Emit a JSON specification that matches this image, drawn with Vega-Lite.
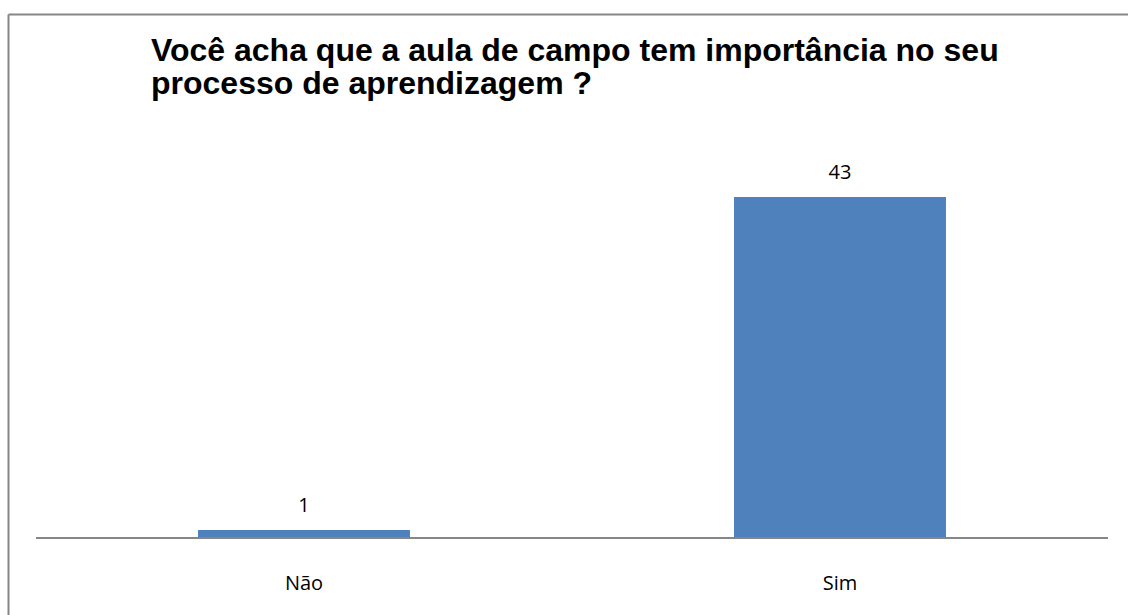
{
  "$schema": "https://vega.github.io/schema/vega-lite/v6.json",
  "autosize": {"type": "none"},
  "padding": {"left": 8, "top": 14, "right": 0, "bottom": 0},
  "width": 1120,
  "height": 601,
  "background": "white",
  "config": {"view": {"stroke": null}},
  "title": {
    "text": ["Você acha que a aula de campo tem importância no seu", "processo de aprendizagem ?"],
    "font": "Liberation Sans",
    "fontSize": 32,
    "fontWeight": "bold",
    "color": "#000000",
    "anchor": "start",
    "frame": "group",
    "orient": "top",
    "baseline": "top",
    "lineHeight": 33,
    "dx": 143,
    "offset": -87
  },
  "data": {"values": [
    {"cat": "Não", "value": 1},
    {"cat": "Sim", "value": 43}
  ]},
  "encoding": {
    "x": {
      "field": "cat",
      "type": "nominal",
      "sort": null,
      "scale": {"paddingInner": 0, "paddingOuter": 0.0448, "align": 0.583},
      "axis": {"orient": "top", "title": null, "labels": false, "ticks": false, "domain": true, "domainColor": "#868686", "domainWidth": 2}
    }
  },
  "layer": [
    {
      "mark": {"type": "bar", "color": "#4F81BD", "width": {"band": 0.3955}},
      "encoding": {
        "y": {
          "field": "value",
          "type": "quantitative",
          "scale": {"domain": [-9.71, 66.08], "nice": false, "zero": false},
          "axis": {"orient": "left", "title": null, "labels": false, "ticks": false, "grid": false, "domain": true, "domainColor": "#868686", "domainWidth": 2}
        }
      }
    },
    {
      "mark": {"type": "rect", "fillOpacity": 0, "stroke": "#868686", "strokeWidth": 2},
      "encoding": {
        "y": {"datum": 0, "type": "quantitative"},
        "y2": {"datum": 0}
      }
    },
    {
      "mark": {"type": "text", "font": "Open Sans", "fontSize": 20, "baseline": "alphabetic", "dy": -18, "color": "#000000"},
      "encoding": {
        "y": {"field": "value", "type": "quantitative"},
        "text": {"field": "value", "type": "quantitative"}
      }
    },
    {
      "mark": {"type": "text", "font": "Open Sans", "fontSize": 20, "baseline": "alphabetic", "color": "#000000"},
      "encoding": {
        "y": {"datum": -6.56, "type": "quantitative"},
        "text": {"field": "cat", "type": "nominal"}
      }
    }
  ]
}
